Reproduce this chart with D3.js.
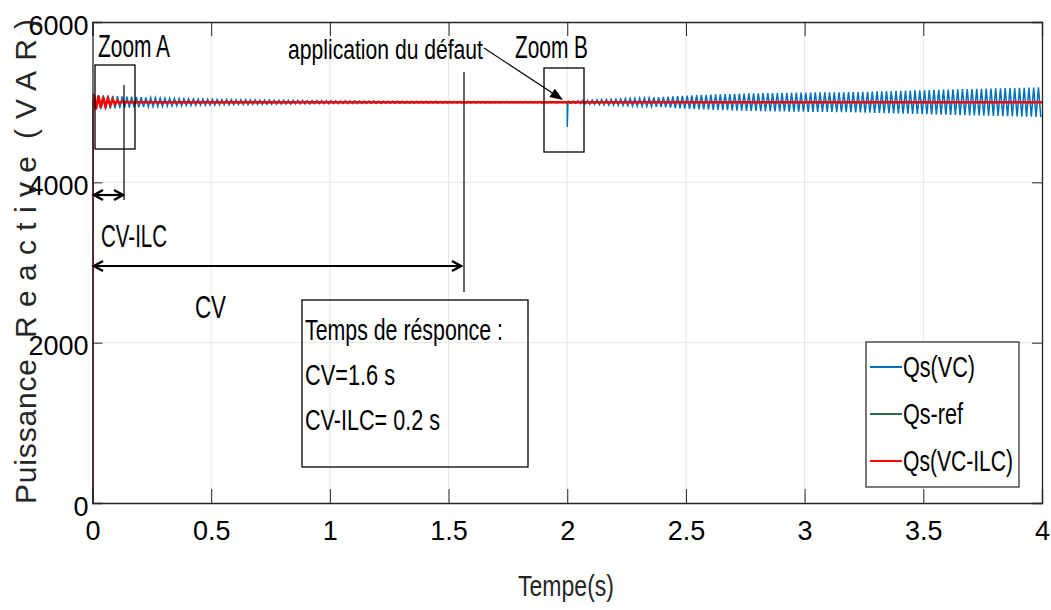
<!DOCTYPE html>
<html>
<head>
<meta charset="utf-8">
<script src="https://cdn.jsdelivr.net/npm/d3@7"></script>
<style>
  body { margin: 0; background: #fff; }
  text { font-family: 'Liberation Sans Narrow', 'Arial Narrow', sans-serif; fill: #000; }
</style>
</head>
<body>
<script>
/* Data */
const xTicks = [0, 0.5, 1, 1.5, 2, 2.5, 3, 3.5, 4];
const yTicks = [0, 2000, 4000, 6000];
const seriesNames = ["Qs(VC)", "Qs-ref", "Qs(VC-ILC)"];
const qRef = 5000;
const ripplePeriod = 0.02;   // 50 Hz ripple seen on the curves

// Qs(VC): ripple envelope before the fault (time s, half amplitude VAR)
const vcTime = [0.005, 0.05, 0.1, 0.16, 0.25, 0.4, 0.55, 0.8, 1.0, 1.2, 1.5, 1.8, 1.995];
const vcAmp = [90, 84, 76, 68, 55, 42, 33, 24, 19, 15, 10, 7, 6];
const vcStart = 4850;
// fault at t = 2 s
const faultTime = 2.0;
const faultDip = 4690;
const vcFaultTime = [2.005, 2.05, 2.14, 2.35, 2.56, 2.75, 3.0, 3.2, 3.5, 3.75, 4.0];
const vcFaultAmp = [12, 18, 32, 55, 90, 108, 120, 125, 150, 168, 185];

// Qs(VC-ILC): ripple envelope at start-up
const ilcTime = [0.005, 0.03, 0.06, 0.09, 0.12, 0.15, 0.2];
const ilcAmp = [100, 75, 50, 28, 12, 4, 0];
const ilcStart = 4840;

/* Constants */
const w = 1051;
const h = 610;
const margin = { left: 92.5, top: 22 };
const W = 949.5;
const H = 481;
const colors = ["#0072BD", "#2f6b4a", "#ff0000"];

const svg = d3.select("body").append("svg")
  .attr("width", w)
  .attr("height", h);

const g = svg.append("g")
  .attr("transform", `translate(${margin.left},${margin.top})`);

const x = d3.scaleLinear().domain([0, 4]).range([0, W]);
const y = d3.scaleLinear().domain([0, 6000]).range([H, 0]);

/* Build the curves from the envelopes */
function ripple(times, amps, t0, t1, sign0) {
  const env = d3.scaleLinear().domain(times).range(amps).clamp(true);
  const pts = [];
  let k = 0;
  for (let t = t0; t <= t1 + 1e-9; t += ripplePeriod / 2, k++) {
    const s = (k % 2 === 0 ? sign0 : -sign0);
    pts.push([t, qRef + s * env(t)]);
  }
  return pts;
}

let vcData = [[0, 0], [0.002, vcStart]]
  .concat(ripple(vcTime, vcAmp, vcTime[0], vcTime[vcTime.length - 1], 1))
  .concat([[faultTime, qRef], [faultTime, faultDip], [faultTime + 0.003, qRef]])
  .concat(ripple(vcFaultTime, vcFaultAmp, vcFaultTime[0], 4, 1));

let ilcData = [[0, 0], [0, ilcStart]]
  .concat(ripple(ilcTime, ilcAmp, ilcTime[0], ilcTime[ilcTime.length - 1], 1))
  .concat([[4, qRef]]);

let refData = [[0, 0], [0, qRef], [4, qRef]];

/* Grid */
g.append("g").selectAll("line").data(xTicks.slice(1, -1)).enter().append("line")
  .attr("x1", d => x(d)).attr("x2", d => x(d))
  .attr("y1", 0).attr("y2", H)
  .attr("stroke", "#e6e6e6");
g.append("g").selectAll("line").data(yTicks.slice(1, -1)).enter().append("line")
  .attr("x1", 0).attr("x2", W)
  .attr("y1", d => y(d)).attr("y2", d => y(d))
  .attr("stroke", "#e6e6e6");

/* Curves */
svg.append("defs").append("clipPath").attr("id", "clip")
  .append("rect").attr("width", W).attr("height", H);

const line = d3.line().x(d => x(d[0])).y(d => y(d[1]));
const curves = g.append("g").attr("clip-path", "url(#clip)");

curves.append("path").datum(refData)
  .attr("d", line).attr("fill", "none")
  .attr("stroke", colors[1]).attr("stroke-width", 2);
curves.append("path").datum(vcData)
  .attr("d", line).attr("fill", "none")
  .attr("stroke", colors[0]).attr("stroke-width", 1.5);
curves.append("path").datum(ilcData)
  .attr("d", line).attr("fill", "none")
  .attr("stroke", colors[2]).attr("stroke-width", 2.5);

/* Axes */
const fmt = d3.format("");
const xAxis = g.append("g")
  .attr("transform", `translate(0,${H})`)
  .call(d3.axisBottom(x).tickValues(xTicks).tickSize(-14).tickPadding(18).tickFormat(fmt));
const yAxis = g.append("g")
  .call(d3.axisLeft(y).tickValues(yTicks).tickSize(-10).tickPadding(4).tickFormat(fmt));
g.append("g")
  .call(d3.axisTop(x).tickValues(xTicks).tickSize(-14).tickFormat(""));
g.append("g")
  .attr("transform", `translate(${W},0)`)
  .call(d3.axisRight(y).tickValues(yTicks).tickSize(-10).tickFormat(""));

g.selectAll(".domain").attr("stroke", "#262626").attr("stroke-width", 1.3);
g.selectAll(".tick line").attr("stroke", "#262626");
g.selectAll(".tick text")
  .attr("font-family", null).attr("fill", "#262626")
  .style("font-size", "27px");
yAxis.selectAll(".tick text").attr("dy", "0.45em");

/* Axis labels */
const yLabelWords = ["Puissance", "Reactive", "(VAR)"];
const yLabelStart = [504, 338, 139];
const yLabelLen = [145, 182, 120];
svg.append("g").selectAll("text").data(yLabelWords).enter().append("text")
  .attr("transform", (d, i) => `translate(36,${yLabelStart[i]}) rotate(-90)`)
  .attr("textLength", (d, i) => yLabelLen[i]).attr("lengthAdjust", "spacing")
  .style("font-family", "'Liberation Sans', Arial, sans-serif")
  .style("font-size", "30px").style("fill", "#262626")
  .text(d => d);

function label(px, py, str, size, width) {
  const t = svg.append("text").attr("x", px).attr("y", py)
    .style("font-size", size + "px").text(str);
  if (width) t.attr("textLength", width).attr("lengthAdjust", "spacingAndGlyphs");
  return t;
}

label(518, 596, "Tempe(s)", 30, 96).style("fill", "#262626");

/* Annotations */
const ann = svg.append("g").attr("fill", "none").attr("stroke", "#000");

function vline(px, y1, y2) {
  ann.append("line").attr("x1", px).attr("x2", px).attr("y1", y1).attr("y2", y2).attr("stroke-width", 1.2);
}
function box(x1, y1, x2, y2) {
  ann.append("rect").attr("x", x1).attr("y", y1)
    .attr("width", x2 - x1).attr("height", y2 - y1).attr("stroke-width", 1.3);
}
function dblArrow(x1, x2, py) {
  ann.append("line").attr("x1", x1 + 1).attr("x2", x2 - 1).attr("y1", py).attr("y2", py).attr("stroke-width", 2.2);
  ann.append("path").attr("d", `M${x1 + 10},${py - 5}L${x1 + 1},${py}L${x1 + 10},${py + 5}`).attr("stroke-width", 2.5);
  ann.append("path").attr("d", `M${x2 - 10},${py - 5}L${x2 - 1},${py}L${x2 - 10},${py + 5}`).attr("stroke-width", 2.5);
}

box(95, 65, 135, 149);
box(544, 68, 584, 152);
box(302, 300, 528, 467);
vline(124, 85, 200);
vline(464, 72, 292);
dblArrow(93, 124, 195);
dblArrow(93, 462, 266);

// arrow towards the fault
const ax1 = 484, ay1 = 48, ax2 = 563, ay2 = 100;
const ang = Math.atan2(ay2 - ay1, ax2 - ax1);
ann.append("line").attr("x1", ax1).attr("y1", ay1)
  .attr("x2", ax2 - 10 * Math.cos(ang)).attr("y2", ay2 - 10 * Math.sin(ang)).attr("stroke-width", 1.2);
ann.append("path")
  .attr("d", `M0,0L-13,-5L-13,5Z`)
  .attr("transform", `translate(${ax2},${ay2}) rotate(${ang * 180 / Math.PI})`)
  .attr("fill", "#000").attr("stroke", "none");

label(98, 57, "Zoom A", 32, 72);
label(515, 58, "Zoom B", 32, 73);
label(288, 59, "application du défaut", 27, 195);
label(101, 247, "CV-ILC", 31, 66);
label(195, 318, "CV", 31, 31);
label(305, 340, "Temps de résponce :", 30, 198);
label(305, 385, "CV=1.6 s", 30, 90);
label(305, 430, "CV-ILC= 0.2 s", 30, 135);

/* Legend */
const legend = svg.append("g");
legend.append("rect")
  .attr("x", 866).attr("y", 342).attr("width", 153).attr("height", 145)
  .attr("fill", "#fff").attr("stroke", "#333").attr("stroke-width", 1.3);
const legendWidths = [72, 60, 110];
const items = legend.selectAll(".item").data(seriesNames).enter().append("g")
  .attr("class", "item")
  .attr("transform", (d, i) => `translate(0,${367 + i * 47})`);
items.append("line")
  .attr("x1", 870).attr("x2", 902)
  .attr("stroke", (d, i) => colors[i]).attr("stroke-width", 2);
items.append("text")
  .attr("x", 903).attr("y", 10)
  .attr("textLength", (d, i) => legendWidths[i]).attr("lengthAdjust", "spacingAndGlyphs")
  .style("font-size", "29px")
  .text(d => d);
</script>
</body>
</html>
